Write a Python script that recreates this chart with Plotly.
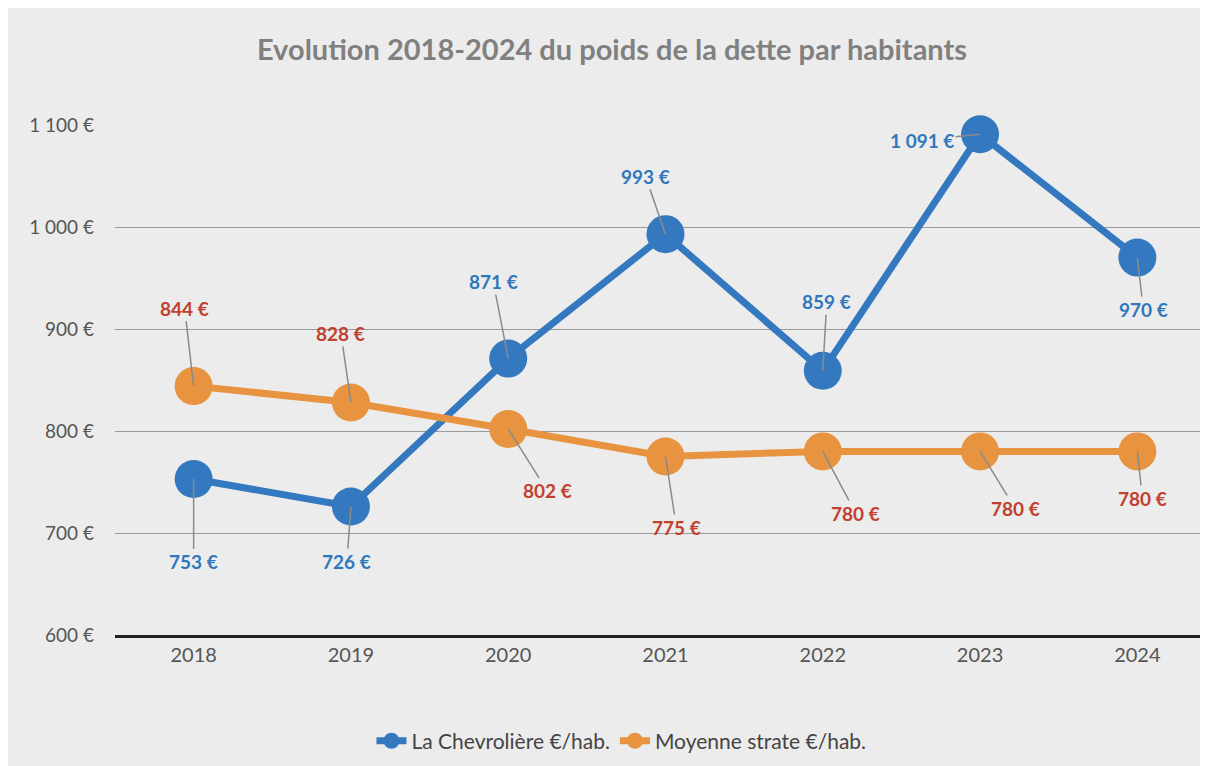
import plotly.graph_objects as go

# Données
years = ["2018", "2019", "2020", "2021", "2022", "2023", "2024"]
chevroliere = [753, 726, 871, 993, 859, 1091, 970]
moyenne = [844, 828, 802, 775, 780, 780, 780]

y_ticks = [600, 700, 800, 900, 1000, 1100]
y_tick_labels = ["600 €", "700 €", "800 €", "900 €", "1 000 €", "1 100 €"]

# décalages des étiquettes (pixels)
offsets_chev = [(0, 83), (-4, 55), (-15, -77), (-20, -58), (4, -69), (-58, 6), (6, 52)]
offsets_moy = [(-9, -78), (-10, -69), (39, 62), (11, 71), (33, 62), (35, 57), (5, 47)]

BLUE = "#3479c0"
ORANGE = "#e8933f"
BLUE_TXT = "#2f78bd"
RED_TXT = "#c2402e"
FONT = "Lato"

x_pos = list(range(len(years)))


def fmt(v):
    s = f"{v:,}".replace(",", " ")
    return f"{s} €"


fig = go.Figure()
fig.add_trace(go.Scatter(x=x_pos, y=chevroliere, mode="lines+markers",
                         name="La Chevrolière €/hab.", cliponaxis=False,
                         line=dict(color=BLUE, width=7),
                         marker=dict(size=38, color=BLUE)))
fig.add_trace(go.Scatter(x=x_pos, y=moyenne, mode="lines+markers",
                         name="Moyenne strate €/hab.", cliponaxis=False,
                         line=dict(color=ORANGE, width=7),
                         marker=dict(size=38, color=ORANGE)))

# étiquettes de données avec traits de rappel
for vals, offs, col in [(chevroliere, offsets_chev, BLUE_TXT), (moyenne, offsets_moy, RED_TXT)]:
    for i, v in enumerate(vals):
        ax, ay = offs[i]
        fig.add_annotation(x=x_pos[i], y=v, xref="x", yref="y",
                           text="<b>" + fmt(v) + "</b>", showarrow=True,
                           arrowhead=0, arrowwidth=1.5, arrowcolor="#8a8a8a",
                           ax=ax, ay=ay,
                           font=dict(family=FONT, size=19, color=col))

fig.update_layout(
    width=1208, height=766,
    paper_bgcolor="#ececec", plot_bgcolor="#ececec",
    title=dict(text="<b>Evolution 2018-2024 du poids de la dette par habitants</b>",
               x=0.5, xanchor="center", y=0.945, yanchor="middle",
               font=dict(family=FONT, size=29, color="#808080")),
    margin=dict(l=107, r=0, t=117, b=139),
    showlegend=True,
    legend=dict(orientation="h", x=0.46, xanchor="center", y=-0.208, yanchor="middle",
                font=dict(family=FONT, size=21, color="#444444"),
                bgcolor="rgba(0,0,0,0)"),
    xaxis=dict(range=[-0.5, 6.5], tickvals=x_pos, ticktext=years, showgrid=False,
               zeroline=False, showline=True, linecolor="#222222", linewidth=3, ticks="",
               tickfont=dict(family=FONT, size=20, color="#555555")),
    yaxis=dict(range=[600, 1100], tickvals=y_ticks, ticktext=y_tick_labels,
               showgrid=True, gridcolor="#9a9a9a", gridwidth=1,
               zeroline=False, showline=False, ticks="", ticklabelstandoff=20,
               tickfont=dict(family=FONT, size=19, color="#555555")),
)

fig.write_html("out.html")
